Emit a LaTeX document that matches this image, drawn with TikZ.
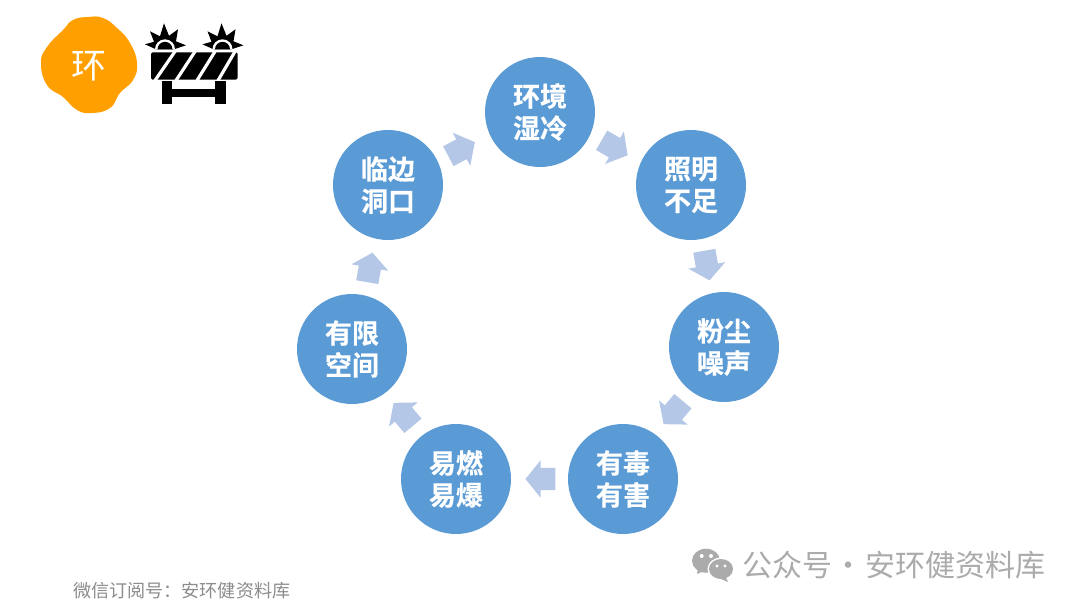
\documentclass[tikz,border=0pt]{standalone}
\usepackage{fontspec}
\usetikzlibrary{shapes.arrows}
\newfontfamily\cjkb[FakeBold=0.4]{Noto Sans CJK SC Bold}
\newfontfamily\cjkr{Noto Sans CJK SC}
\definecolor{circ}{HTML}{5B9BD5}
\definecolor{arr}{HTML}{B4C7E7}
\definecolor{orng}{HTML}{FFA000}
\definecolor{wmgrey}{HTML}{ABABAB}
\tikzset{
  bubble/.style={circle,fill=circ,minimum size=110pt,inner sep=0pt,text=white,align=center,
    font=\cjkb\fontsize{27}{32}\selectfont},
  flow/.style={single arrow,fill=arr,inner xsep=0pt,inner ysep=11pt,minimum height=30pt,
    single arrow head extend=7.5pt,single arrow tip angle=102,anchor=center},
  lamp/.pic={
    \fill[black] (-20,-4)--(-11,-6.5)--(-15,-17)--(-5,-12)--(-1,-25)--(4,-12.5)--(13,-19)--(11,-7)--(21,-3)--(9,1)--(-9,1)--cycle;
    \fill[white] (-10,1) arc[start angle=180,end angle=360,radius=10]--cycle;
    \fill[black] (-7.5,1) arc[start angle=180,end angle=360,radius=7.5]--cycle;
  },
}
\begin{document}
\begin{tikzpicture}[x=1pt,y=-1pt]
\useasboundingbox (0,0) rectangle (1080,608);
\fill[white] (0,0) rectangle (1080,608);
% logo blob
\fill[orng] plot[smooth cycle,tension=0.8] coordinates {(88,17)(103,18)(117,28)(130,43)(137,63)(133,80)(120,93)(110,108)(92,113)(77,110)(63,97)(47,85)(41,63)(47,47)(63,30)(73,20)};
\node[text=white,font=\cjkr\fontsize{35}{35}\selectfont,inner sep=0pt] (logo) at (89,66) {环};
% barrier icon
\fill[black,rounded corners=1.5pt] (151,52.3) rectangle (237.7,79.5);
\foreach \xb/\xt in {155/175,176/195,197/215,218/235}
  \draw[white,line width=3.2pt] (\xb,80.5)--(\xt,51.5);
\fill[black] (161.7,81) rectangle (172.3,104.3);
\fill[black] (215,81) rectangle (225.7,104.3);
\fill[black] (172,89) rectangle (216,97.3);
\pic at (165,48.3) {lamp};
\pic at (222.5,48.3) {lamp};
% circles
\node[bubble] (a) at (540,112) {环境\\湿冷};
\node[bubble] (b) at (691,185) {照明\\不足};
\node[bubble] (c) at (724,347) {粉尘\\噪声};
\node[bubble] (d) at (623,479) {有毒\\有害};
\node[bubble] (e) at (456,479) {易燃\\易爆};
\node[bubble] (f) at (352,349) {有限\\空间};
\node[bubble] (g) at (388,185) {临边\\洞口};
% arrows
\node[flow,rotate=-30] (ab) at (610.7,145.5) {};
\node[flow,rotate=-80] (bc) at (706.1,261.1) {};
\node[flow,rotate=-130] (cd) at (676.2,409.2) {};
\node[flow,rotate=180] (de) at (545,479) {};
\node[flow,rotate=130] (ef) at (406.2,417.8) {};
\node[flow,rotate=80] (fg) at (369.1,271.9) {};
\node[flow,rotate=28] (ga) at (457.6,151.3) {};
% wechat icon
\fill[wmgrey] (706,560.7) ellipse[x radius=14,y radius=12];
\fill[wmgrey] (698,568)--(697,574)--(704,571)--cycle;
\fill[white] (721,569) ellipse[x radius=13.5,y radius=11.5];
\fill[wmgrey] (721,569) ellipse[x radius=12,y radius=10];
\fill[wmgrey] (725,576)--(728,582)--(719,578)--cycle;
\fill[white] (701.7,556) circle[radius=2] (711,556) circle[radius=2] (717,566) circle[radius=1.6] (725,566) circle[radius=1.6];
% captions
\node[anchor=west,text=gray!90,font=\cjkr\fontsize{18.1}{18}\selectfont,inner sep=0pt] (cap) at (73,591) {微信订阅号：安环健资料库};
\node[anchor=west,text=wmgrey,font=\cjkr\fontsize{30}{29}\selectfont,inner sep=0pt] (wm) at (742,565) {公众号\hspace{-5pt} · \hspace{-5pt}安环健资料库};
\end{tikzpicture}
\end{document}
